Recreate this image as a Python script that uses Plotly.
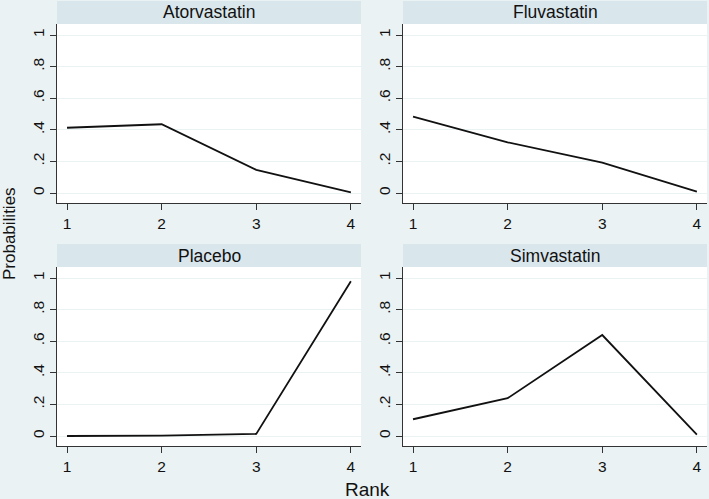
import plotly.graph_objects as go

ranks = [1, 2, 3, 4]
treatments = ["Atorvastatin", "Fluvastatin", "Placebo", "Simvastatin"]
atorvastatin = [0.413, 0.435, 0.146, 0.004]
fluvastatin = [0.483, 0.321, 0.192, 0.008]
placebo = [0.0, 0.002, 0.013, 0.980]
simvastatin = [0.106, 0.239, 0.639, 0.008]
series = [atorvastatin, fluvastatin, placebo, simvastatin]
ytick_vals = [0, 0.2, 0.4, 0.6, 0.8, 1]
ytick_text = ["0", ".2", ".4", ".6", ".8", "1"]
xtick_vals = [1, 2, 3, 4]

W, H = 709, 499
BG = "#EAF2F3"
STRIP = "#D9E6EB"
FONT = "Liberation Sans, Arial, sans-serif"

# panel pixel boxes (left, right, top, bottom)
cols = [(57, 361), (403, 707)]
rows = [(24, 203), (267, 446)]
strip_h = 23

fig = go.Figure()
shapes = []
annotations = []
layout = {}
for i, (name, vals) in enumerate(zip(treatments, series)):
    r, c = divmod(i, 2)
    l, rr = cols[c]
    t, b = rows[r]
    xd = [l / W, rr / W]
    yd = [(H - b) / H, (H - t) / H]
    sfx = "" if i == 0 else str(i + 1)
    fig.add_trace(go.Scatter(
        x=ranks, y=vals, mode="lines",
        line=dict(color="#111111", width=1.8),
        xaxis="x" + sfx, yaxis="y" + sfx, showlegend=False,
        hoverinfo="skip",
    ))
    layout["xaxis" + sfx] = dict(
        domain=xd, anchor="y" + sfx, range=[0.894, 4.107],
        tickvals=xtick_vals, ticktext=[str(v) for v in xtick_vals],
        ticks="outside", ticklen=6, tickcolor="#333333", tickwidth=1,
        showline=True, linecolor="#333333", linewidth=1,
        showgrid=False, zeroline=False,
        tickfont=dict(family=FONT, size=15.5, color="#111111"),
        fixedrange=True,
    )
    layout["yaxis" + sfx] = dict(
        domain=yd, anchor="x" + sfx, range=[-0.0633, 1.0696],
        tickvals=ytick_vals, ticktext=ytick_text, tickangle=-90,
        ticks="outside", ticklen=6, tickcolor="#333333", tickwidth=1,
        showline=True, linecolor="#333333", linewidth=1,
        showgrid=True, gridcolor=BG, gridwidth=1.2, zeroline=False,
        tickfont=dict(family=FONT, size=15.5, color="#111111"),
        fixedrange=True,
    )
    # strip header
    shapes.append(dict(
        type="rect", xref="paper", yref="paper",
        x0=l / W, x1=rr / W, y0=(H - t) / H, y1=(H - t + strip_h) / H,
        fillcolor=STRIP, line=dict(width=0), layer="below",
    ))
    annotations.append(dict(
        text=name, xref="paper", yref="paper",
        x=(l + rr) / 2 / W, y=(H - t + strip_h / 2) / H,
        showarrow=False, xanchor="center", yanchor="middle",
        font=dict(family=FONT, size=17.5, color="#111111"),
    ))

annotations.append(dict(
    text="Probabilities", xref="paper", yref="paper",
    x=9 / W, y=(H - 234) / H, textangle=-90, showarrow=False,
    xanchor="center", yanchor="middle",
    font=dict(family=FONT, size=17, color="#111111"),
))
annotations.append(dict(
    text="Rank", xref="paper", yref="paper",
    x=367 / W, y=(H - 489) / H, showarrow=False,
    xanchor="center", yanchor="middle",
    font=dict(family=FONT, size=19, color="#111111"),
))

fig.update_layout(
    width=W, height=H,
    margin=dict(l=0, r=0, t=0, b=0),
    paper_bgcolor=BG, plot_bgcolor="white",
    shapes=shapes, annotations=annotations,
    **layout,
)
fig.write_html(
    "out.html",
    config={"displayModeBar": False},
    post_script="document.body.style.margin='0';document.body.style.padding='0';document.body.style.overflow='hidden';",
)
